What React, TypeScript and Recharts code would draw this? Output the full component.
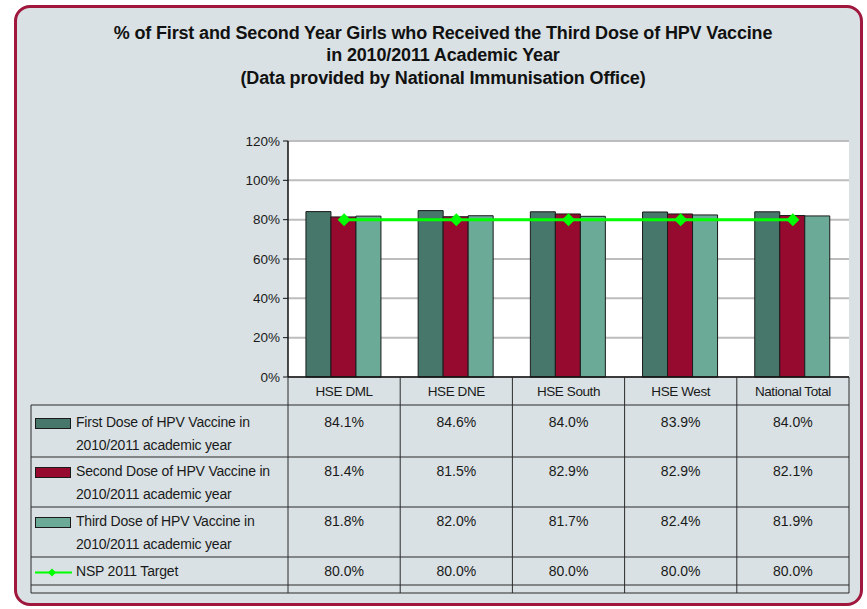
import { ComposedChart, Bar, Line, XAxis, YAxis, CartesianGrid } from "recharts";

const categories = ["HSE DML", "HSE DNE", "HSE South", "HSE West", "National Total"];
const firstDose = [84.1, 84.6, 84.0, 83.9, 84.0];
const secondDose = [81.4, 81.5, 82.9, 82.9, 82.1];
const thirdDose = [81.8, 82.0, 81.7, 82.4, 81.9];
const target = [80.0, 80.0, 80.0, 80.0, 80.0];
const yTicks = [0, 20, 40, 60, 80, 100, 120];

const seriesNames = [
  ["First Dose of HPV Vaccine in", "2010/2011 academic year"],
  ["Second Dose of HPV Vaccine in", "2010/2011 academic year"],
  ["Third Dose of HPV Vaccine in", "2010/2011 academic year"],
  ["NSP 2011 Target"],
];
const titleLines = [
  "% of First and Second Year Girls who Received the Third Dose of HPV Vaccine",
  "in 2010/2011 Academic Year",
  "(Data provided by National Immunisation Office)",
];

const COLORS = ["#46776a", "#970a30", "#6caa98", "#00ff00"];
const FONT = "'Liberation Sans', Arial, Helvetica, sans-serif";

// plot geometry
const PLOT_L = 288;
const PLOT_R = 849;
const PLOT_T = 141;
const PLOT_B = 377;
const CHART_H = 410;
const X_AXIS_H = 28;

const data = categories.map((c, i) => ({
  name: c,
  first: firstDose[i],
  second: secondDose[i],
  third: thirdDose[i],
  target: target[i],
}));

const Diamond = (p: any) => {
  const { cx, cy } = p;
  if (cx == null || cy == null) return null;
  const r = 6.5;
  return (
    <path
      key={`d-${p.index}`}
      d={`M${cx},${cy - r}L${cx + r},${cy}L${cx},${cy + r}L${cx - r},${cy}Z`}
      fill="#00ff00"
    />
  );
};

const CatTick = (p: any) => {
  const { x, y, payload } = p;
  return (
    <text x={x} y={y + 18.5} textAnchor="middle" fontSize={13.5} fontFamily={FONT} fill="#1a1a1a" letterSpacing={-0.4}>
      {payload.value}
    </text>
  );
};

const DataTable = () => {
  const n = categories.length;
  const bw = (PLOT_R - PLOT_L) / n;
  const colX = Array.from({ length: n + 1 }, (_, i) => PLOT_L + i * bw);
  const rowY = [405, 457, 507, 557, 585, 593];
  const textY = [422, 471, 521, 571];
  const values = [firstDose, secondDose, thirdDose, target];
  const left = 31;
  const line = "#2b2b2b";
  return (
    <svg width={867} height={609} style={{ position: "absolute", left: 0, top: 0, pointerEvents: "none" }}>
      {colX.map((x, i) => (
        <line key={`v${i}`} x1={x} x2={x} y1={PLOT_B} y2={rowY[rowY.length - 1]} stroke={line} strokeWidth={1} />
      ))}
      <line x1={left} x2={left} y1={rowY[0]} y2={rowY[rowY.length - 1]} stroke={line} strokeWidth={1} />
      {rowY.map((y, i) => (
        <line key={`h${i}`} x1={left} x2={PLOT_R} y1={y} y2={y} stroke={line} strokeWidth={1} />
      ))}
      {seriesNames.map((lines, r) => (
        <g key={`r${r}`}>
          {r < 3 ? (
            <rect x={35.5} y={textY[r] - 3.5} width={35} height={10} fill={COLORS[r]} stroke="#1a1a1a" strokeWidth={1} />
          ) : (
            <g>
              <line x1={35} x2={72} y1={textY[r] + 1.5} y2={textY[r] + 1.5} stroke="#00ff00" strokeWidth={2} />
              <path
                d={`M52,${textY[r] + 1.5 - 4}L56,${textY[r] + 1.5}L52,${textY[r] + 1.5 + 4}L48,${textY[r] + 1.5}Z`}
                fill="#00ff00"
              />
            </g>
          )}
          {lines.map((t, k) => (
            <text key={k} x={76} y={textY[r] + 5 + k * 22.5} fontSize={14} fontFamily={FONT} fill="#1a1a1a" letterSpacing={-0.2}>
              {t}
            </text>
          ))}
          {values[r].map((v, c) => (
            <text
              key={`c${c}`}
              x={colX[c] + bw / 2}
              y={textY[r] + 5}
              textAnchor="middle"
              fontSize={14}
              fontFamily={FONT}
              fill="#1a1a1a"
            >
              {v.toFixed(1)}%
            </text>
          ))}
        </g>
      ))}
    </svg>
  );
};

export default function App() {
  return (
    <div style={{ position: "absolute", left: 0, top: 0, width: 867, height: 609, overflow: "hidden", fontFamily: FONT }}>
      <div
        style={{
          position: "absolute",
          left: 14,
          top: 5,
          width: 849,
          height: 601,
          boxSizing: "border-box",
          border: "3px solid #a0173d",
          borderRadius: 16,
          background: "#d9e1e4",
        }}
      />
      <div
        style={{
          position: "absolute",
          left: 0,
          top: 21.75,
          width: 886,
          textAlign: "center",
          fontWeight: "bold",
          fontSize: 18,
          lineHeight: "22.5px",
          color: "#111",
          letterSpacing: -0.15,
        }}
      >
        {titleLines.map((t, i) => (
          <div key={i}>{t}</div>
        ))}
      </div>
      <div style={{ position: "absolute", left: 0, top: 0 }}>
        <ComposedChart
          width={867}
          height={CHART_H}
          data={data}
          margin={{ top: PLOT_T, right: 867 - PLOT_R, left: PLOT_L - 60, bottom: CHART_H - PLOT_B - X_AXIS_H }}
          barGap={0}
          barCategoryGap="16%"
        >
          <CartesianGrid vertical={false} fill="#ffffff" stroke="#bdbdbd" strokeWidth={2} />
          <XAxis
            dataKey="name"
            height={X_AXIS_H}
            axisLine={{ stroke: "#111", strokeWidth: 1.5 }}
            tickLine={false}
            tickSize={0}
            tickMargin={0}
            tick={<CatTick />}
            interval={0}
          />
          <YAxis
            width={60}
            domain={[0, 120]}
            ticks={yTicks}
            interval={0}
            tickFormatter={(v) => `${v}%`}
            axisLine={{ stroke: "#111", strokeWidth: 1.5 }}
            tickLine={{ stroke: "#111" }}
            tickSize={5}
            tickMargin={3}
            tick={{ fontSize: 13.5, fontFamily: FONT, fill: "#1a1a1a" }}
          />
          <Bar dataKey="first" fill={COLORS[0]} stroke="#1a1a1a" strokeWidth={1} isAnimationActive={false} />
          <Bar dataKey="second" fill={COLORS[1]} stroke="#1a1a1a" strokeWidth={1} isAnimationActive={false} />
          <Bar dataKey="third" fill={COLORS[2]} stroke="#1a1a1a" strokeWidth={1} isAnimationActive={false} />
          <Line
            dataKey="target"
            stroke="#00ff00"
            strokeWidth={3}
            dot={Diamond}
            activeDot={false}
            isAnimationActive={false}
          />
        </ComposedChart>
      </div>
      <DataTable />
    </div>
  );
}
